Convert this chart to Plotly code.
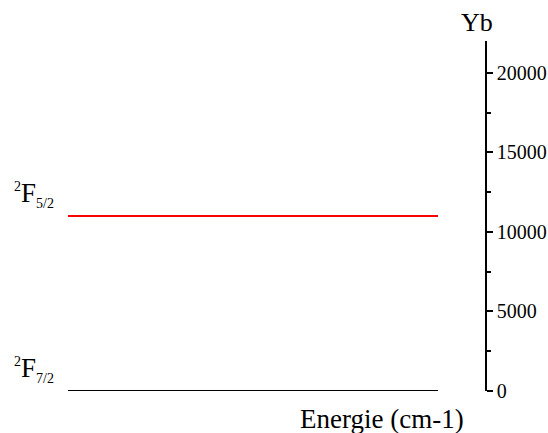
import plotly.graph_objects as go

# Energy levels of Yb3+
level_terms = ["7/2", "5/2"]
level_energies = [0, 11000]
level_colors = ["black", "red"]
level_x = [0, 1]  # horizontal extent of each level line

y_ticks = [0, 5000, 10000, 15000, 20000]
y_range = [0, 22000]

FONT = "Liberation Serif"

fig = go.Figure()
for term, e, c in zip(level_terms, level_energies, level_colors):
    fig.add_trace(go.Scatter(x=level_x, y=[e, e], mode="lines",
                             line=dict(color=c, width=2), showlegend=False,
                             hoverinfo="skip"))
    fig.add_annotation(
        x=0, xref="paper", y=e, yref="y",
        text="<sup><span style='font-size:14px'>2</span></sup>F<sub><span style='font-size:14px'>"
             + term + "</span></sub>",
        showarrow=False, xanchor="right", yanchor="bottom", xshift=-12, yshift=3,
        font=dict(family=FONT, size=27, color="black"))

fig.update_layout(
    width=548, height=433,
    margin=dict(l=68, r=63, t=41, b=42, autoexpand=False),
    paper_bgcolor="white", plot_bgcolor="white",
    font=dict(family=FONT, color="black"),
    xaxis=dict(range=[0, 1.127], visible=False, automargin=False),
    yaxis=dict(range=y_range, side="right", showline=True, linecolor="black",
               linewidth=1.5, ticks="outside", ticklen=6, tickwidth=1.5,
               tickcolor="black", tickvals=y_ticks, tickformat="d",
               showgrid=False, zeroline=False, automargin=False,
               tickfont=dict(family=FONT, size=20, color="black"),
               minor=dict(dtick=2500, tick0=0, ticks="outside", ticklen=4,
                          tickwidth=1.5, tickcolor="black", showgrid=False)),
)
fig.add_annotation(x=1, xref="paper", y=1, yref="paper", text="Yb", showarrow=False,
                   xanchor="center", yanchor="bottom", xshift=-8, yshift=2,
                   font=dict(family=FONT, size=26, color="black"))
fig.add_annotation(x=1, xref="paper", y=0, yref="paper", text="Energie (cm-1)",
                   showarrow=False, xanchor="right", yanchor="top", xshift=-19, yshift=-11,
                   font=dict(family=FONT, size=27, color="black"))

fig.write_html("out.html", config={"displayModeBar": False},
               post_script="document.body.style.margin='0';document.body.style.overflow='hidden';")
